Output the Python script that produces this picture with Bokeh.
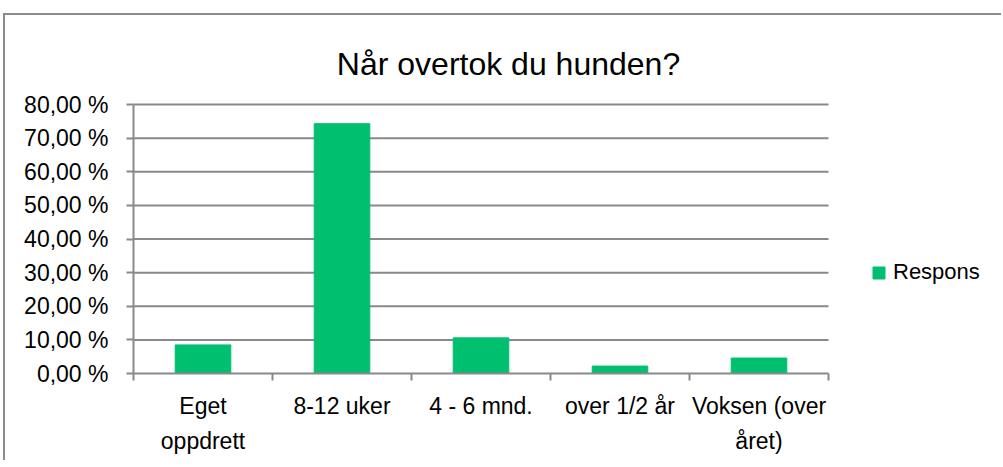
from bokeh.plotting import figure
from bokeh.models import Range1d, FixedTicker, Legend, LegendItem, ColumnDataSource, Label
from bokeh.embed import file_html
from bokeh.resources import INLINE

title = "Når overtok du hunden?"
categories = ["Eget\noppdrett", "8-12 uker", "4 - 6 mnd.", "over 1/2 år", "Voksen (over\nåret)"]
values = [8.5, 74.3, 10.6, 2.2, 4.6]
y_ticks = [0, 10, 20, 30, 40, 50, 60, 70, 80]
y_labels = [f"{t},00 %" for t in y_ticks]
series_name = "Respons"

FONT = "Liberation Sans"
GRID = "#898989"
BAR = "#00BF6F"

# layout (pixels, relative to the figure)
W, H = 998, 447
LEFT, RIGHT, BOTTOM = 128, 0, 89
PLOT_W, PLOT_H = 695, 269          # width / height of the data area
frame_w = W - LEFT - RIGHT
frame_h = H - BOTTOM

n = len(categories)
ymax = y_ticks[-1]
xs = [i + 0.5 for i in range(n)]
src = ColumnDataSource(dict(x=xs, top=values))

p = figure(width=W, height=H, output_backend="svg", toolbar_location=None,
           x_range=Range1d(0, n * frame_w / PLOT_W),
           y_range=Range1d(0, ymax * frame_h / PLOT_H),
           min_border_left=LEFT, min_border_right=RIGHT, min_border_top=0, min_border_bottom=BOTTOM)
p.margin = (15, 0, 0, 5)
p.styles = {"box-shadow": "-2px -2px 0 0 #8c8c8c"}
p.outline_line_color = None
p.background_fill_color = "white"
p.border_fill_color = "white"

# horizontal grid lines (over the category area only)
gy = y_ticks[1:]
p.segment(x0=[0] * len(gy), x1=[n] * len(gy), y0=gy, y1=gy, line_color=GRID, line_width=2)

r = p.vbar(x="x", top="top", width=0.4, source=src, fill_color=BAR, line_color=BAR)

# title
p.add_layout(Label(x=375, y=310, x_units="screen", y_units="screen", text=title,
                   text_font=FONT, text_font_size="32px", text_color="#000000",
                   text_align="center", text_baseline="alphabetic"))

# x axis
xa = p.xaxis[0]
xa.bounds = (0, n)
xa.ticker = FixedTicker(ticks=xs, minor_ticks=list(range(n + 1)))
xa.major_label_overrides = {x: c for x, c in zip(xs, categories)}
xa.major_tick_out = 0
xa.major_tick_in = 0
xa.minor_tick_out = 7
xa.minor_tick_in = 0
xa.minor_tick_line_color = GRID
xa.minor_tick_line_width = 2
xa.axis_line_color = GRID
xa.axis_line_width = 2
xa.major_label_text_font = FONT
xa.major_label_text_font_size = "23px"
xa.major_label_text_color = "#000000"
xa.major_label_text_line_height = 1.38
xa.major_label_standoff = 12

# y axis
ya = p.yaxis[0]
ya.bounds = (0, ymax)
ya.ticker = FixedTicker(ticks=y_ticks, minor_ticks=[])
ya.major_label_overrides = {t: l for t, l in zip(y_ticks, y_labels)}
ya.major_tick_out = 7
ya.major_tick_in = 0
ya.major_tick_line_color = GRID
ya.major_tick_line_width = 2
ya.axis_line_color = GRID
ya.axis_line_width = 2
ya.major_label_text_font = FONT
ya.major_label_text_font_size = "23px"
ya.major_label_text_color = "#000000"
ya.major_label_standoff = 18

p.xgrid.grid_line_color = None
p.ygrid.grid_line_color = None

legend = Legend(items=[LegendItem(label=series_name, renderers=[r])],
                location=(738, 88), orientation="vertical",
                glyph_width=15, glyph_height=15, label_standoff=7,
                padding=0, margin=0, border_line_alpha=0, background_fill_alpha=0,
                label_text_font=FONT, label_text_font_size="22px", label_text_color="#000000")
p.add_layout(legend, "center")

open("out.html", "w").write(file_html(p, INLINE))
